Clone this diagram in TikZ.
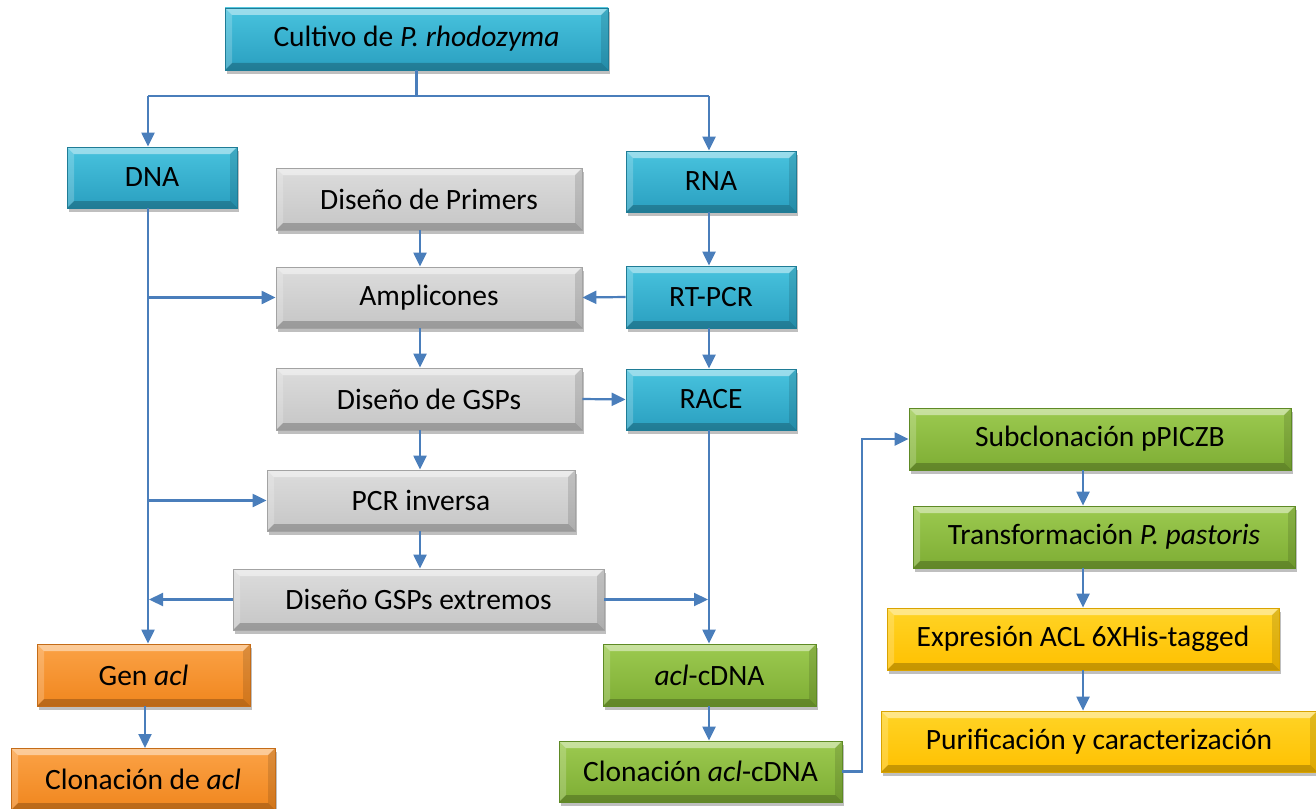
\documentclass[tikz,border=0pt]{standalone}
\usepackage{fontspec}
\setmainfont{Carlito}
\usetikzlibrary{arrows.meta,shadows}
\definecolor{ln}{HTML}{4A7EBB}
\tikzset{
  x=1pt,y=-1pt,
  bevel/.style={path picture={
    \coordinate (nw) at (path picture bounding box.north west);
    \coordinate (ne) at (path picture bounding box.north east);
    \coordinate (sw) at (path picture bounding box.south west);
    \coordinate (se) at (path picture bounding box.south east);
    \fill[white,opacity=.45] (nw) -- (ne) -- ([shift={(-7pt,-7pt)}]ne) -- ([shift={(7pt,-7pt)}]nw) -- cycle;
    \fill[white,opacity=.2] (nw) -- (sw) -- ([shift={(7pt,7pt)}]sw) -- ([shift={(7pt,-7pt)}]nw) -- cycle;
    \fill[black,opacity=.12] (ne) -- (se) -- ([shift={(-7pt,7pt)}]se) -- ([shift={(-7pt,-7pt)}]ne) -- cycle;
    \fill[black,opacity=.22] (sw) -- (se) -- ([shift={(-7pt,7pt)}]se) -- ([shift={(7pt,7pt)}]sw) -- cycle;
  }},
  box/.style={rectangle, inner sep=0pt, font=\fontsize{29.5}{34}\selectfont, line width=0.8pt, bevel,
    drop shadow={shadow xshift=2pt, shadow yshift=-4pt, opacity=0.25, fill=black}},
  cyanbox/.style={box, top color=cyanT, bottom color=cyanB, draw=cyanD},
  graybox/.style={box, top color=grayT, bottom color=grayB, draw=grayD},
  orangebox/.style={box, top color=oraT, bottom color=oraB, draw=oraD},
  greenbox/.style={box, top color=grnT, bottom color=grnB, draw=grnD},
  yellowbox/.style={box, top color=yelT, bottom color=yelB, draw=yelD},
  con/.style={draw=ln, line width=2.2pt},
  arr/.style={con, -{Triangle[length=14pt,width=13pt]}},
}
\definecolor{cyanT}{HTML}{48C3DE}
\definecolor{cyanB}{HTML}{2A9FC0}
\definecolor{cyanD}{HTML}{1F7C96}
\definecolor{grayT}{HTML}{DCDCDC}
\definecolor{grayB}{HTML}{C6C6C6}
\definecolor{grayD}{HTML}{A3A3A3}
\definecolor{oraT}{HTML}{FBA246}
\definecolor{oraB}{HTML}{F0861E}
\definecolor{oraD}{HTML}{C46C18}
\definecolor{grnT}{HTML}{9CCA50}
\definecolor{grnB}{HTML}{7EAD34}
\definecolor{grnD}{HTML}{5E8A25}
\definecolor{yelT}{HTML}{FFD426}
\definecolor{yelB}{HTML}{FFC000}
\definecolor{yelD}{HTML}{D9A300}
\begin{document}
\begin{tikzpicture}
\path[use as bounding box, fill=white] (0,0) rectangle (1316,808);

\node[cyanbox, minimum width=383, minimum height=62] (cult) at (416.5,39) {Cultivo de \textit{P. rhodozyma}};
\node[cyanbox, minimum width=170, minimum height=61] (dna) at (152,177.5) {DNA};
\node[cyanbox, minimum width=170, minimum height=61] (rna) at (711,181.5) {RNA};
\node[graybox, minimum width=306, minimum height=62] (prim) at (429,199) {Diseño de Primers};
\node[graybox, minimum width=306, minimum height=61] (ampl) at (429,297.5) {Amplicones};
\node[cyanbox, minimum width=170, minimum height=62] (rt) at (711,297) {RT-PCR};
\node[graybox, minimum width=306, minimum height=62] (gsp) at (429,399) {Diseño de GSPs};
\node[cyanbox, minimum width=170, minimum height=61] (race) at (711,399.5) {RACE};
\node[graybox, minimum width=308, minimum height=61] (pcr) at (421,500.5) {PCR inversa};
\node[graybox, minimum width=371, minimum height=61] (ext) at (418.5,599.5) {Diseño GSPs extremos};
\node[orangebox, minimum width=213, minimum height=62] (gen) at (143.5,675) {Gen \textit{acl}};
\node[orangebox, minimum width=264, minimum height=62] (clon) at (143,779) {Clonación de \textit{acl}};
\node[greenbox, minimum width=213, minimum height=62] (cdna) at (709.5,675) {\textit{acl}-cDNA};
\node[greenbox, minimum width=283, minimum height=61] (clc) at (700.5,771.5) {Clonación \textit{acl}-cDNA};
\node[greenbox, minimum width=382, minimum height=62] (sub) at (1100,439) {Subclonación pPICZB};
\node[greenbox, minimum width=382, minimum height=62] (tra) at (1104,537) {Transformación \textit{P. pastoris}};
\node[yellowbox, minimum width=392, minimum height=62] (exp) at (1083,639) {Expresión ACL 6XHis-tagged};
\node[yellowbox, minimum width=436, minimum height=61] (pur) at (1099,741.5) {Purificación y caracterización};

\coordinate (jL) at (148,96);
\coordinate (jR) at (709,96);
\coordinate (vx) at (420,0);
\coordinate (bx) at (862,0);
\coordinate (yx) at (1083,0);

\draw[con] (cult.south) -- (cult.south |- jL);
\draw[con] (jL) -- (jR);
\draw[arr] (jL) -- (jL |- dna.north);
\draw[arr] (jR) -- (jR |- rna.north);

\draw[arr] (jL |- dna.south) -- (jL |- gen.north);
\draw[arr] (jL |- ampl) -- (ampl.west);
\draw[arr] (jL |- pcr) -- (pcr.west);
\draw[arr] (ext.west) -- ([xshift=1pt]jL |- ext);

\draw[arr] (vx |- prim.south) -- (vx |- ampl.north);
\draw[arr] (vx |- ampl.south) -- (vx |- gsp.north);
\draw[arr] (vx |- gsp.south) -- (vx |- pcr.north);
\draw[arr] (vx |- pcr.south) -- (vx |- ext.north);

\draw[arr] (jR |- rna.south) -- (jR |- rt.north);
\draw[arr] (jR |- rt.south) -- (jR |- race.north);
\draw[arr] (rt.west) -- (ampl.east);
\draw[arr] (gsp.east) -- (race.west);
\draw[arr] (jR |- race.south) -- (jR |- cdna.north);
\draw[arr] (ext.east) -- ([xshift=-1pt]jR |- ext);

\draw[arr] (145,706) -- (145,748);
\draw[arr] (jR |- cdna.south) -- (jR |- clc.north);

\draw[arr] (clc.east) -| (bx |- sub.west) -- (sub.west);
\draw[arr] (yx |- sub.south) -- (yx |- tra.north);
\draw[arr] (yx |- tra.south) -- (yx |- exp.north);
\draw[arr] (yx |- exp.south) -- (yx |- pur.north);
\end{tikzpicture}
\end{document}
